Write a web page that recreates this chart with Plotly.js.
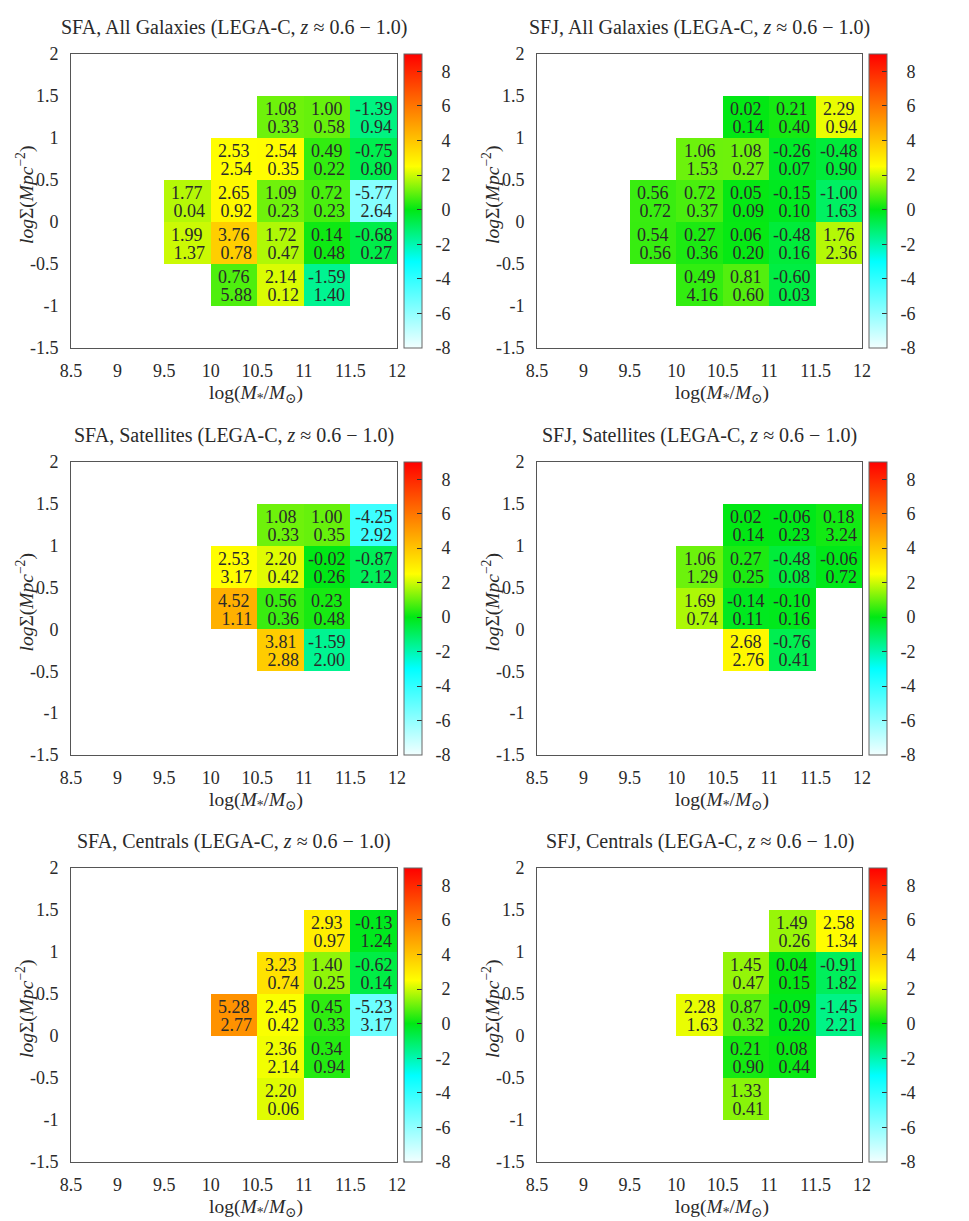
<!DOCTYPE html>
<html>
<head>
<meta charset="utf-8">
<script src="https://cdn.plot.ly/plotly-3.0.1.min.js"></script>
<style>html,body{margin:0;padding:0;background:#fff;}#chart{width:969px;height:1221px;}</style>
</head>
<body>
<div id="chart"></div>
<script>
// Bin centres (log stellar mass, log surface density)
const massCenters = [8.75, 9.25, 9.75, 10.25, 10.75, 11.25, 11.75];
const sigmaCenters = [-1.25, -0.75, -0.25, 0.25, 0.75, 1.25, 1.75];
const massTickVals = [8.5, 9, 9.5, 10, 10.5, 11, 11.5, 12];
const massTickText = ["8.5", "9", "9.5", "10", "10.5", "11", "11.5", "12"];
const sigmaTickVals = [-1.5, -1, -0.5, 0, 0.5, 1, 1.5, 2];
const sigmaTickText = ["-1.5", "-1", "-0.5", "0", "0.5", "1", "1.5", "2"];
const cbTickVals = [-8, -6, -4, -2, 0, 2, 4, 6, 8];
const cbTickText = ["-8", "-6", "-4", "-2", "0", "2", "4", "6", "8"];
const n = null;

// Rows: sigma bins from -1.25 (first) to 1.75 (last); columns: mass bins
const sfaAllVal = [
  [n,n,n,n,n,n,n],
  [n,n,n,0.76,2.14,-1.59,n],
  [n,n,1.99,3.76,1.72,0.14,-0.68],
  [n,n,1.77,2.65,1.09,0.72,-5.77],
  [n,n,n,2.53,2.54,0.49,-0.75],
  [n,n,n,n,1.08,1.00,-1.39],
  [n,n,n,n,n,n,n]];
const sfaAllErr = [
  [n,n,n,n,n,n,n],
  [n,n,n,5.88,0.12,1.40,n],
  [n,n,1.37,0.78,0.47,0.48,0.27],
  [n,n,0.04,0.92,0.23,0.23,2.64],
  [n,n,n,2.54,0.35,0.22,0.80],
  [n,n,n,n,0.33,0.58,0.94],
  [n,n,n,n,n,n,n]];

const sfjAllVal = [
  [n,n,n,n,n,n,n],
  [n,n,n,0.49,0.81,-0.60,n],
  [n,n,0.54,0.27,0.06,-0.48,1.76],
  [n,n,0.56,0.72,0.05,-0.15,-1.00],
  [n,n,n,1.06,1.08,-0.26,-0.48],
  [n,n,n,n,0.02,0.21,2.29],
  [n,n,n,n,n,n,n]];
const sfjAllErr = [
  [n,n,n,n,n,n,n],
  [n,n,n,4.16,0.60,0.03,n],
  [n,n,0.56,0.36,0.20,0.16,2.36],
  [n,n,0.72,0.37,0.09,0.10,1.63],
  [n,n,n,1.53,0.27,0.07,0.90],
  [n,n,n,n,0.14,0.40,0.94],
  [n,n,n,n,n,n,n]];

const sfaSatVal = [
  [n,n,n,n,n,n,n],
  [n,n,n,n,n,n,n],
  [n,n,n,n,3.81,-1.59,n],
  [n,n,n,4.52,0.56,0.23,n],
  [n,n,n,2.53,2.20,-0.02,-0.87],
  [n,n,n,n,1.08,1.00,-4.25],
  [n,n,n,n,n,n,n]];
const sfaSatErr = [
  [n,n,n,n,n,n,n],
  [n,n,n,n,n,n,n],
  [n,n,n,n,2.88,2.00,n],
  [n,n,n,1.11,0.36,0.48,n],
  [n,n,n,3.17,0.42,0.26,2.12],
  [n,n,n,n,0.33,0.35,2.92],
  [n,n,n,n,n,n,n]];

const sfjSatVal = [
  [n,n,n,n,n,n,n],
  [n,n,n,n,n,n,n],
  [n,n,n,n,2.68,-0.76,n],
  [n,n,n,1.69,-0.14,-0.10,n],
  [n,n,n,1.06,0.27,-0.48,-0.06],
  [n,n,n,n,0.02,-0.06,0.18],
  [n,n,n,n,n,n,n]];
const sfjSatErr = [
  [n,n,n,n,n,n,n],
  [n,n,n,n,n,n,n],
  [n,n,n,n,2.76,0.41,n],
  [n,n,n,0.74,0.11,0.16,n],
  [n,n,n,1.29,0.25,0.08,0.72],
  [n,n,n,n,0.14,0.23,3.24],
  [n,n,n,n,n,n,n]];

const sfaCenVal = [
  [n,n,n,n,n,n,n],
  [n,n,n,n,2.20,n,n],
  [n,n,n,n,2.36,0.34,n],
  [n,n,n,5.28,2.45,0.45,-5.23],
  [n,n,n,n,3.23,1.40,-0.62],
  [n,n,n,n,n,2.93,-0.13],
  [n,n,n,n,n,n,n]];
const sfaCenErr = [
  [n,n,n,n,n,n,n],
  [n,n,n,n,0.06,n,n],
  [n,n,n,n,2.14,0.94,n],
  [n,n,n,2.77,0.42,0.33,3.17],
  [n,n,n,n,0.74,0.25,0.14],
  [n,n,n,n,n,0.97,1.24],
  [n,n,n,n,n,n,n]];

const sfjCenVal = [
  [n,n,n,n,n,n,n],
  [n,n,n,n,1.33,n,n],
  [n,n,n,n,0.21,0.08,n],
  [n,n,n,2.28,0.87,-0.09,-1.45],
  [n,n,n,n,1.45,0.04,-0.91],
  [n,n,n,n,n,1.49,2.58],
  [n,n,n,n,n,n,n]];
const sfjCenErr = [
  [n,n,n,n,n,n,n],
  [n,n,n,n,0.41,n,n],
  [n,n,n,n,0.90,0.44,n],
  [n,n,n,1.63,0.32,0.20,2.21],
  [n,n,n,n,0.47,0.15,1.82],
  [n,n,n,n,n,0.26,1.34],
  [n,n,n,n,n,n,n]];

const panelTitles = [
  "SFA, All Galaxies (LEGA-C, <i>z</i> ≈ 0.6 − 1.0)",
  "SFJ, All Galaxies (LEGA-C, <i>z</i> ≈ 0.6 − 1.0)",
  "SFA, Satellites (LEGA-C, <i>z</i> ≈ 0.6 − 1.0)",
  "SFJ, Satellites (LEGA-C, <i>z</i> ≈ 0.6 − 1.0)",
  "SFA, Centrals (LEGA-C, <i>z</i> ≈ 0.6 − 1.0)",
  "SFJ, Centrals (LEGA-C, <i>z</i> ≈ 0.6 − 1.0)"
];
const panelVals = [sfaAllVal, sfjAllVal, sfaSatVal, sfjSatVal, sfaCenVal, sfjCenVal];
const panelErrs = [sfaAllErr, sfjAllErr, sfaSatErr, sfjSatErr, sfaCenErr, sfjCenErr];

// ---- layout / style ----
const W = 969, H = 1221;
const FONT = "'Liberation Serif', 'DejaVu Serif', serif";
const TXT = "#2a2a2a";
const colX = [[71, 397], [537, 862]];
const rowY = [[54, 348], [462, 755], [868, 1162]];
const cbLeft = [404, 869];
const zmin = -8, zmax = 9;
function stop(v){ return (v - zmin) / (zmax - zmin); }
const colorscale = [
  [stop(-8), "rgb(242,255,255)"],
  [stop(-3), "rgb(0,255,255)"],
  [stop(0), "rgb(0,232,20)"],
  [stop(2.5), "rgb(255,255,0)"],
  [stop(9), "rgb(255,0,0)"]
];
// right-align the colour bar labels like the original
const cbLabels = cbTickText.map(t => (t.charAt(0) === "-" ? "\u00a0\u00a0" : "\u00a0\u00a0\u2004") + t);

const data = [];
const annotations = [];
const layout = {
  width: W, height: H,
  margin: {l: 0, r: 0, t: 0, b: 0},
  paper_bgcolor: "#fff", plot_bgcolor: "#fff",
  showlegend: false,
  font: {family: FONT, size: 18, color: TXT}
};

for (let i = 0; i < 6; i++) {
  const c = i % 2, r = Math.floor(i / 2);
  const ax = i === 0 ? "" : String(i + 1);
  const [x0, x1] = colX[c];
  const [yt, yb] = rowY[r];
  const yDom = [1 - yb / H, 1 - yt / H];
  layout["xaxis" + ax] = {
    domain: [x0 / W, x1 / W], anchor: "y" + ax,
    range: [8.5, 12], tickvals: massTickVals, ticktext: massTickText,
    showline: true, mirror: true, linecolor: "#555", linewidth: 1,
    ticks: "", showgrid: false, zeroline: false, fixedrange: true,
    tickfont: {family: FONT, size: 18, color: TXT}, ticklabelstandoff: 6
  };
  layout["yaxis" + ax] = {
    domain: yDom, anchor: "x" + ax,
    range: [-1.5, 2], tickvals: sigmaTickVals, ticktext: sigmaTickText,
    showline: true, mirror: true, linecolor: "#555", linewidth: 1,
    ticks: "", showgrid: false, zeroline: false, fixedrange: true,
    tickfont: {family: FONT, size: 18, color: TXT}, ticklabelstandoff: 8
  };
  data.push({
    type: "heatmap",
    x: massCenters, y: sigmaCenters, z: panelVals[i],
    xaxis: "x" + ax, yaxis: "y" + ax,
    zmin: zmin, zmax: zmax, colorscale: colorscale,
    hoverinfo: "skip", xgap: 0, ygap: 0,
    colorbar: {
      x: cbLeft[c] / W, xanchor: "left", xpad: 0,
      y: (yDom[0] + yDom[1]) / 2, yanchor: "middle", ypad: 0,
      len: (yb - yt) / H, lenmode: "fraction",
      thickness: 18, thicknessmode: "pixels",
      outlinewidth: 1, outlinecolor: "#666",
      ticks: "inside", ticklen: 5, tickcolor: "#333", tickwidth: 1,
      tickvals: cbTickVals, ticktext: cbLabels,
      tickfont: {family: FONT, size: 18, color: TXT}
    }
  });
  // cell labels
  const vals = panelVals[i], errs = panelErrs[i];
  for (let yi = 0; yi < sigmaCenters.length; yi++) {
    for (let xi = 0; xi < massCenters.length; xi++) {
      const v = vals[yi][xi];
      if (v === null) continue;
      annotations.push({
        xref: "x" + ax, yref: "y" + ax, x: massCenters[xi], y: sigmaCenters[yi],
        text: v.toFixed(2), showarrow: false, yshift: 8,
        font: {family: FONT, size: 18, color: TXT}
      });
      annotations.push({
        xref: "x" + ax, yref: "y" + ax, x: massCenters[xi], y: sigmaCenters[yi],
        text: "\u00a0" + errs[yi][xi].toFixed(2), showarrow: false, yshift: -10,
        font: {family: FONT, size: 18, color: TXT}
      });
    }
  }
  // panel title
  annotations.push({
    xref: "paper", yref: "paper", x: (x0 + x1) / 2 / W, y: 1 - (yt - 27) / H,
    xanchor: "center", yanchor: "middle", showarrow: false,
    text: panelTitles[i], font: {family: FONT, size: 20, color: TXT}
  });
  // x axis title (centred on plot + colour bar, as in the original)
  annotations.push({
    xref: "paper", yref: "paper", x: ((x0 + x1) / 2 + 22) / W, y: 1 - (yb + 46) / H,
    xanchor: "center", yanchor: "middle", showarrow: false,
    text: "log(<i>M</i><sub>*</sub>/<i>M</i><sub>⊙</sub>)",
    font: {family: FONT, size: 19.5, color: TXT}
  });
  // y axis title
  annotations.push({
    xref: "paper", yref: "paper", x: (x0 - 46) / W, y: 1 - ((yt + yb) / 2 - 6) / H,
    xanchor: "center", yanchor: "middle", showarrow: false, textangle: -90,
    text: "<i>log</i>Σ(<i>Mpc</i><sup>−2</sup>)",
    font: {family: FONT, size: 19.5, color: TXT}
  });
}
layout.annotations = annotations;

Plotly.newPlot("chart", data, layout, {staticPlot: true, displayModeBar: false});
</script>
</body>
</html>
